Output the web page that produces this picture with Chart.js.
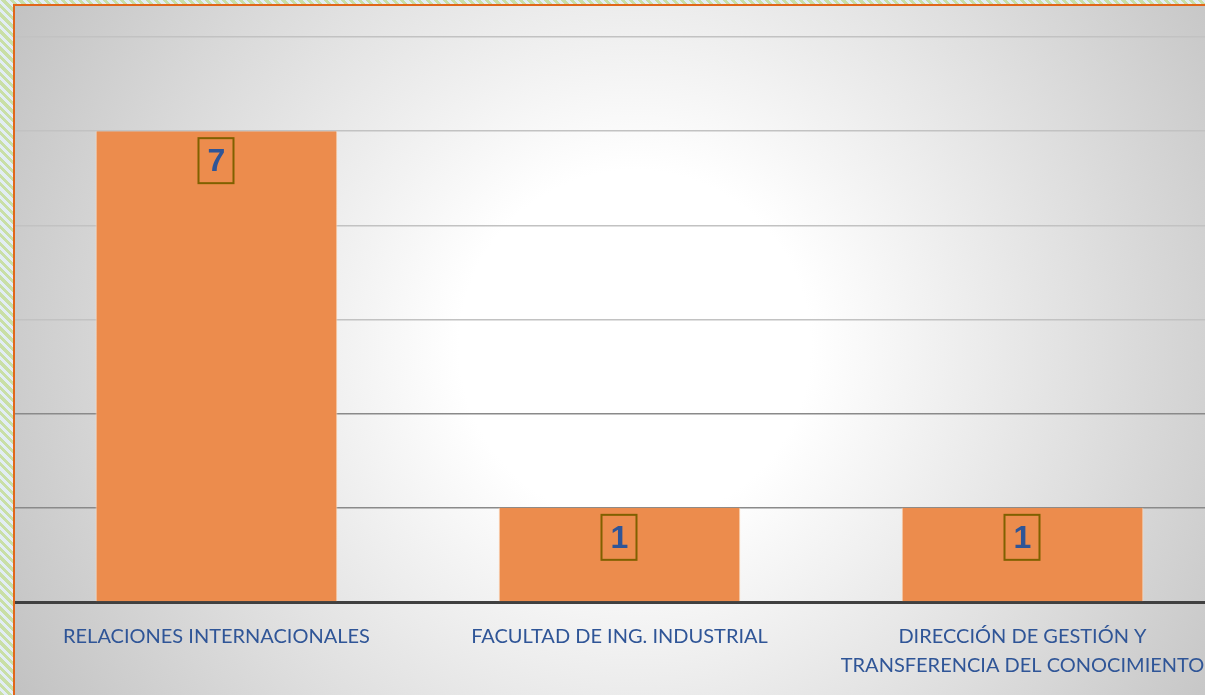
<!DOCTYPE html>
<html>
<head>
<meta charset="utf-8">
<script src="https://cdn.jsdelivr.net/npm/chart.js@4"></script>
<style>
  html, body { margin: 0; padding: 0; width: 1205px; height: 695px; overflow: hidden; }
  body {
    background: repeating-linear-gradient(45deg, #c9dfa6 0px, #c9dfa6 3px, #e2edf4 3px, #e2edf4 6px);
  }
  #card {
    position: absolute; left: 13px; top: 4px; width: 1300px; height: 760px;
    border-left: 2px solid #e1661a; border-top: 2px solid #e1661a;
    background: radial-gradient(circle farthest-corner at 620px 340px, #ffffff 0%, #ffffff 22%, #b8b8b8 100%);
    overflow: hidden;
  }
  #wrap { position: absolute; left: 0; top: 0; width: 1209px; height: 716px; }
</style>
</head>
<body>
<div id="card"><div id="wrap"><canvas id="chart"></canvas></div></div>
<script>
// datos
const categorias = [
    'RELACIONES INTERNACIONALES',
    'FACULTAD DE ING. INDUSTRIAL',
    ['DIRECCIÓN DE GESTIÓN Y', 'TRANSFERENCIA DEL CONOCIMIENTO']
];
const valores = [7, 1, 1];
const ejeMin = -0.5;
const ejeMax = 8.5;
const ejePaso = 1.5;

// etiquetas con recuadro encima de cada barra
const etiquetas = {
    id: 'etiquetas',
    afterDatasetsDraw(chart) {
        const ctx = chart.ctx;
        const meta = chart.getDatasetMeta(0);
        ctx.save();
        ctx.font = 'bold 32px "Liberation Sans", Arial, sans-serif';
        ctx.textAlign = 'center';
        ctx.textBaseline = 'middle';
        meta.data.forEach(function (bar, i) {
            const cx = bar.x;
            const top = bar.y + 7;
            ctx.strokeStyle = '#7f6000';
            ctx.lineWidth = 2;
            ctx.strokeRect(cx - 18, top, 35, 45);
            ctx.fillStyle = '#2f5597';
            ctx.fillText(String(valores[i]), cx, top + 24);
        });
        ctx.restore();
    }
};

const ctx = document.getElementById('chart').getContext('2d');
new Chart(ctx, {
    type: 'bar',
    data: {
        labels: categorias,
        datasets: [{
            data: valores,
            base: ejeMin,
            backgroundColor: '#ec8c4d',
            borderColor: 'rgba(255,225,200,0.9)',
            borderWidth: { left: 1, right: 1, top: 0, bottom: 0 },
            barPercentage: 0.6,
            categoryPercentage: 1.0
        }]
    },
    options: {
        responsive: true,
        maintainAspectRatio: false,
        animation: false,
        layout: { padding: { top: 31, left: 0, right: 0, bottom: 0 } },
        plugins: {
            legend: { display: false },
            tooltip: { enabled: false }
        },
        scales: {
            x: {
                grid: { display: false },
                border: { display: true, color: '#404040', width: 3 },
                ticks: {
                    color: '#2f5597',
                    font: { family: 'Lato, "Open Sans", sans-serif', size: 20, lineHeight: 1.45 },
                    padding: 12,
                    maxRotation: 0,
                    autoSkip: false
                },
                afterFit(scale) { scale.height = 120; }
            },
            y: {
                min: ejeMin,
                max: ejeMax,
                ticks: { display: false, stepSize: ejePaso },
                border: { display: false },
                grid: {
                    drawTicks: false,
                    lineWidth: 1.5,
                    color: function (c) {
                        return c.index === 0 ? 'rgba(0,0,0,0)' : (c.index <= 2 ? '#8a8a8a' : '#c2c2c2');
                    }
                }
            }
        }
    },
    plugins: [etiquetas]
});
</script>
</body>
</html>
